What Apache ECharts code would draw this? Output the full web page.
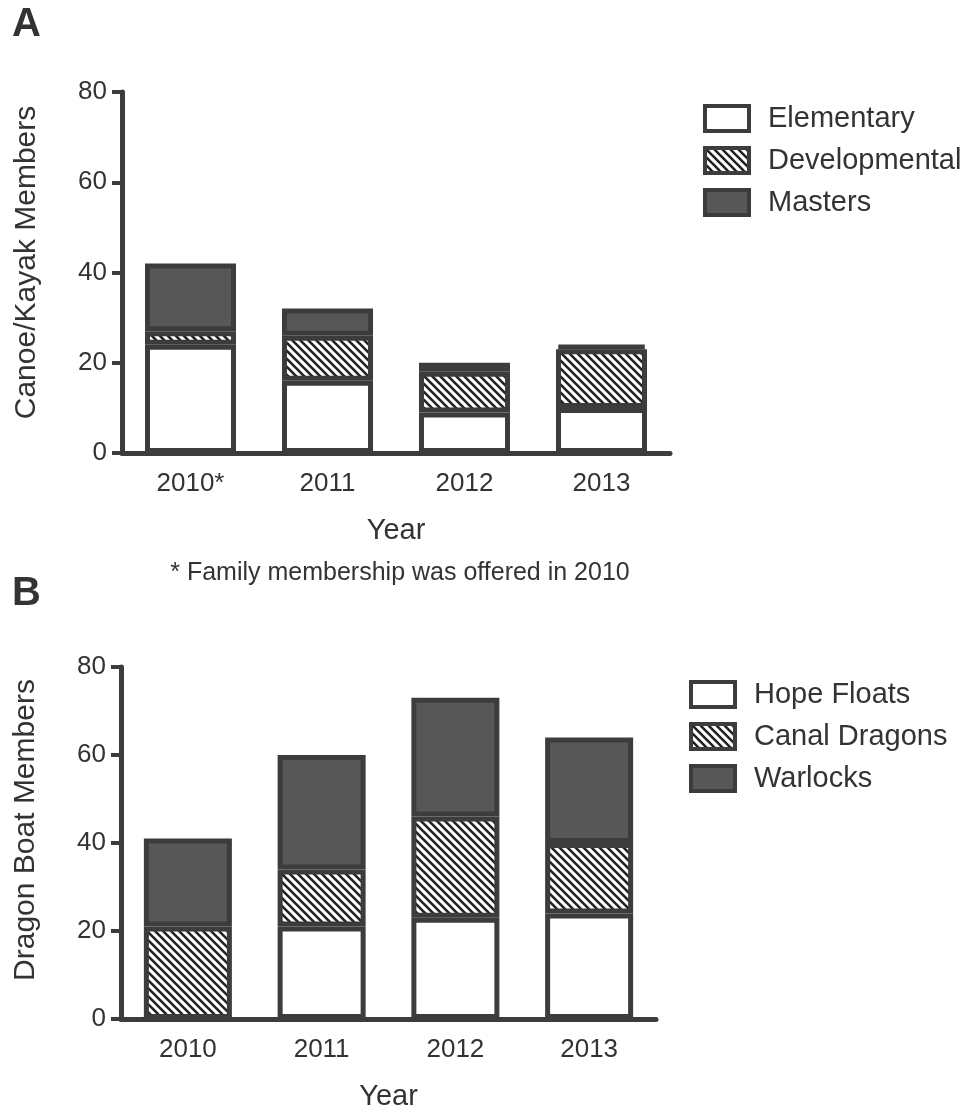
<!DOCTYPE html>
<html><head><meta charset="utf-8">
<script src="https://cdn.jsdelivr.net/npm/echarts@6/dist/echarts.min.js"></script>
<style>html,body{margin:0;padding:0;background:#fff}#c{width:976px;height:1112px}</style>
</head><body><div id="c"></div>
<script>
// ---- data ----
const yearsA = ['2010*', '2011', '2012', '2013'];
const elementary = [24, 16, 9, 10];
const developmental = [3, 10, 9, 13];
const masters = [15, 6, 2, 1];

const yearsB = ['2010', '2011', '2012', '2013'];
const hopeFloats = [0, 21, 23, 24];
const canalDragons = [21, 13, 23, 16];
const warlocks = [20, 26, 27, 24];

const yMin = 0, yMax = 80, yStep = 20;

// ---- styles ----
const FONT = '"Liberation Sans", Arial, sans-serif';
const INK = '#3c3c3c';
const TXT = '#333333';
const DARK = '#575757';
const BW = 5;

function hatchCanvas() {
  const s = 8;
  const c = document.createElement('canvas');
  c.width = s; c.height = s;
  const g = c.getContext('2d');
  g.fillStyle = '#ffffff'; g.fillRect(0, 0, s, s);
  g.strokeStyle = '#222222'; g.lineWidth = 2.6;
  g.beginPath();
  g.moveTo(-1, -1); g.lineTo(s + 1, s + 1);
  g.moveTo(-1, s - 1); g.lineTo(1, s + 1);
  g.moveTo(s - 1, -1); g.lineTo(s + 1, 1);
  g.stroke();
  return c;
}
const hatch = { image: hatchCanvas(), repeat: 'repeat' };

function xAxisFor(cats, gridIndex) {
  return {
    type: 'category', gridIndex, data: cats,
    axisLine: { lineStyle: { color: INK, width: BW } },
    axisTick: { alignWithLabel: true, length: 10, lineStyle: { color: INK, width: 4 } },
    axisLabel: { color: TXT, fontSize: 26, fontFamily: FONT, margin: 18, interval: 0 },
    name: 'Year', nameLocation: 'middle', nameGap: 63,
    nameTextStyle: { color: TXT, fontSize: 29, fontFamily: FONT }
  };
}
function yAxisFor(name, gridIndex, shift) {
  return {
    type: 'value', gridIndex, min: yMin, max: yMax, interval: yStep,
    splitLine: { show: false },
    axisLine: { show: true, lineStyle: { color: INK, width: BW } },
    axisTick: { show: true, length: 10, lineStyle: { color: INK, width: 4 } },
    axisLabel: { color: TXT, fontSize: 26, fontFamily: FONT, margin: 15 },
    name, nameLocation: 'middle', nameGap: 80,
    nameTextStyle: { color: TXT, fontSize: 30, fontFamily: FONT, padding: [0, 0, 0, shift] }
  };
}
function bar(name, data, fill, idx, stack, width) {
  return {
    type: 'bar', name, data, stack, barWidth: width,
    xAxisIndex: idx, yAxisIndex: idx,
    itemStyle: { color: fill, borderColor: INK, borderWidth: BW },
    emphasis: { disabled: true }
  };
}
function legendFor(names, left, top) {
  return {
    data: names, orient: 'vertical', left, top,
    itemWidth: 44, itemHeight: 25, itemGap: 13,
    icon: 'rect',
    itemStyle: { borderColor: INK, borderWidth: 4 },
    textStyle: { color: TXT, fontSize: 29, fontFamily: FONT, padding: [0, 0, 0, 14] },
    selectedMode: false
  };
}

const chart = echarts.init(document.getElementById('c'), null, { renderer: 'canvas' });
chart.setOption({
  animation: false,
  backgroundColor: '#ffffff',
  grid: [
    { left: 122, top: 92, width: 548, height: 361 },
    { left: 121, top: 667, width: 535, height: 355 }
  ],
  xAxis: [xAxisFor(yearsA, 0), xAxisFor(yearsB, 1)],
  yAxis: [yAxisFor('Canoe/Kayak Members', 0, 20), yAxisFor('Dragon Boat Members', 1, 26)],
  legend: [
    legendFor(['Elementary', 'Developmental', 'Masters'], 698, 99),
    legendFor(['Hope Floats', 'Canal Dragons', 'Warlocks'], 684, 675)
  ],
  series: [
    bar('Elementary', elementary, '#ffffff', 0, 'A', 91),
    bar('Developmental', developmental, hatch, 0, 'A', 91),
    bar('Masters', masters, DARK, 0, 'A', 91),
    bar('Hope Floats', hopeFloats, '#ffffff', 1, 'B', 88),
    bar('Canal Dragons', canalDragons, hatch, 1, 'B', 88),
    bar('Warlocks', warlocks, DARK, 1, 'B', 88)
  ],
  graphic: [
    { type: 'text', left: 12, top: 5, style: { text: 'A', font: 'bold 40px ' + FONT, fill: TXT } },
    { type: 'text', left: 12, top: 574, style: { text: 'B', font: 'bold 40px ' + FONT, fill: TXT } },
    { type: 'text', x: 400, y: 573, style: { text: '* Family membership was offered in 2010', font: '25px ' + FONT, fill: TXT, align: 'center', verticalAlign: 'middle' } }
  ]
});
</script></body></html>
